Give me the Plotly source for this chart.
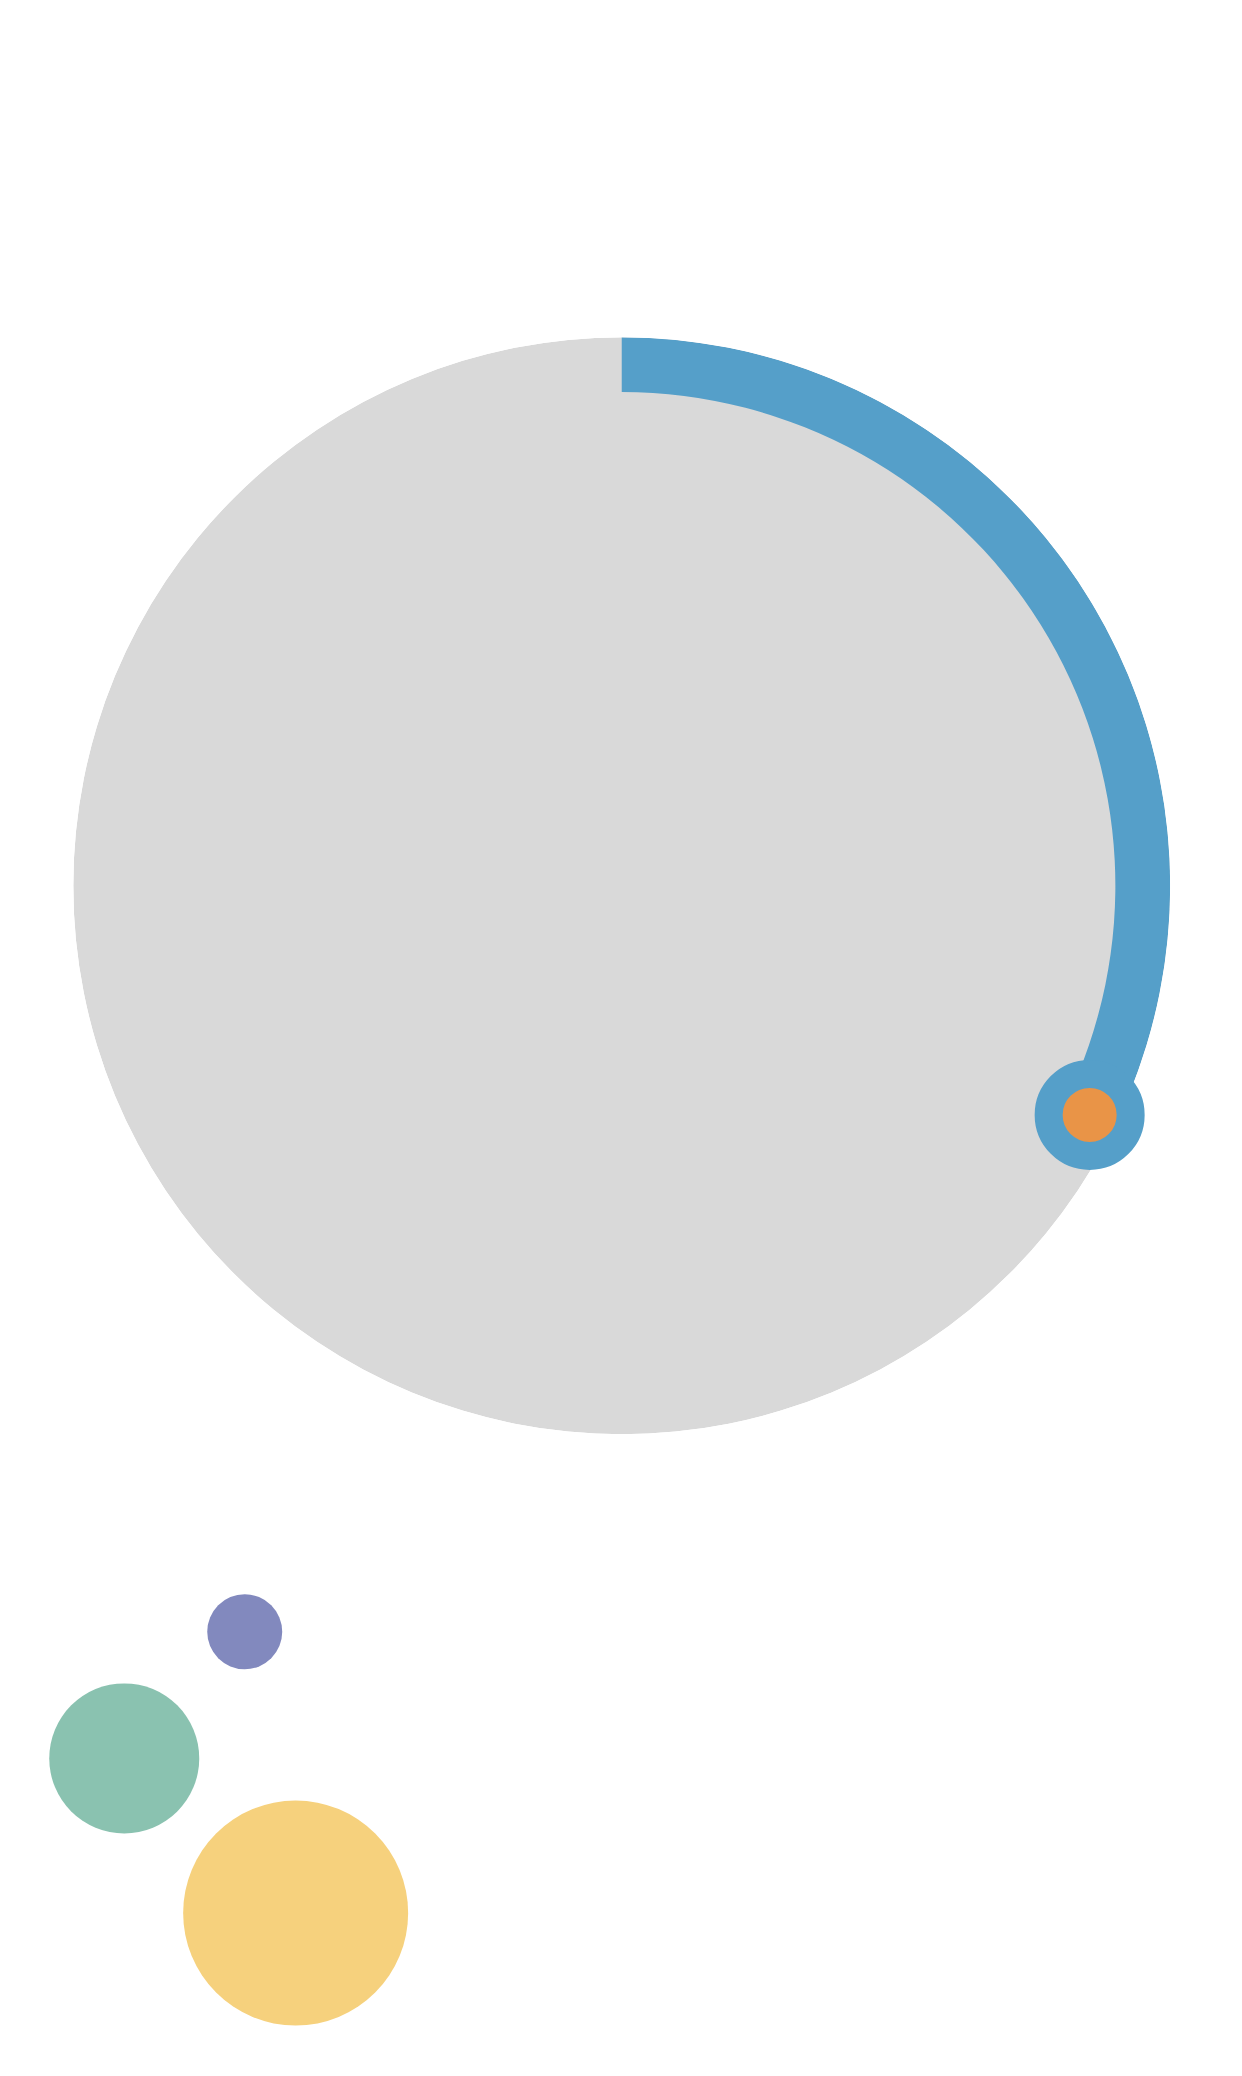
import plotly.graph_objects as go

# gauge: share of the full circle completed (percent)
progress = 32.25
track_color = "#D9D9D9"
bar_color = "#559FC9"
dot_color = "#E99447"

# bubbles
bubble_x = [1.906, 0.936, 2.316]
bubble_y = [4.357, 3.137, 1.647]
bubble_val = [1, 2, 3]
bubble_colors = ["#8289BE", "#8AC2B0", "#F6D17D"]

W, H = 1242, 2076
deg = progress * 3.6

track = go.Barpolar(r=[1], theta=[180], width=[360], base=0,
                    marker=dict(color=track_color, line=dict(width=0)), hoverinfo="skip")
arc = go.Barpolar(r=[0.1], theta=[deg / 2], width=[deg], base=0.9,
                  marker=dict(color=bar_color, line=dict(width=0)), hoverinfo="skip")
dot = go.Scatterpolar(r=[0.95], theta=[deg], mode="markers",
                      marker=dict(size=82, color=dot_color, line=dict(color=bar_color, width=28)),
                      hoverinfo="skip")
bubbles = go.Scatter(x=bubble_x, y=bubble_y, mode="markers", cliponaxis=False,
                     marker=dict(size=bubble_val, sizemode="diameter", sizeref=1 / 75,
                                 color=bubble_colors, opacity=1, line=dict(width=0)),
                     hoverinfo="skip")

fig = go.Figure([track, arc, dot, bubbles])
# domains shifted a little up/left to offset the page's body margin
fig.update_layout(
    width=W, height=H, margin=dict(l=0, r=0, t=0, b=0),
    paper_bgcolor="white", plot_bgcolor="white", showlegend=False,
    polar=dict(domain=dict(x=[0.0525, 0.9358], y=[0.3130, 0.8414]),
               bgcolor="rgba(0,0,0,0)", hole=0,
               radialaxis=dict(range=[0, 1], visible=False),
               angularaxis=dict(rotation=90, direction="clockwise", visible=False)),
    xaxis=dict(domain=[0, 1], range=[0, 10], visible=False, fixedrange=True),
    yaxis=dict(domain=[0, 0.25], range=[0, 5], visible=False, fixedrange=True),
)
fig.write_html("out.html")
